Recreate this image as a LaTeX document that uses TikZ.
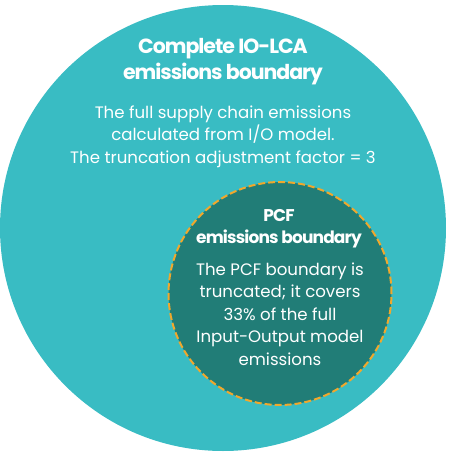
\documentclass[tikz,border=0pt]{standalone}
\usepackage{fontspec}
\setmainfont{Poppins}
\newfontfamily\titlefont[LetterSpace=-5]{Poppins}
\definecolor{outerfill}{RGB}{57,188,195}
\definecolor{innerfill}{RGB}{33,125,119}
\definecolor{dashcol}{RGB}{240,168,44}
\tikzset{
  bodytext/.style={text=white, align=center, inner sep=0, font=\fontsize{16.6}{22.5}\selectfont},
  titletext/.style={text=white, align=center, inner sep=0, font=\titlefont\bfseries\fontsize{20.5}{26}\selectfont},
  subtitletext/.style={text=white, align=center, inner sep=0, font=\titlefont\bfseries\fontsize{17}{22}\selectfont},
}
\begin{document}
\begin{tikzpicture}[x=1pt,y=-1pt]
\useasboundingbox (0,0) rectangle (456,456);
\node[circle, fill=outerfill, minimum size=446pt, inner sep=0] (big) at (223,228) {};
\node[circle, fill=innerfill, draw=dashcol, line width=2pt, dash pattern=on 7pt off 3pt, minimum size=223pt, inner sep=0] (small) at (280,293.5) {};
\node[titletext, anchor=base] (t1) at (223,53) {Complete IO-LCA};
\node[titletext, anchor=base] (t2) at (223,79) {emissions boundary};
\node[bodytext, anchor=base] (b1) at (223,118) {The full supply chain emissions};
\node[bodytext, anchor=base] (b2) at (223,140.5) {calculated from I/O model.};
\node[bodytext, anchor=base] (b3) at (223,163) {The truncation adjustment factor = 3};
\node[subtitletext, anchor=base] (s1) at (279,221) {PCF};
\node[subtitletext, anchor=base] (s2) at (279,243) {emissions boundary};
\node[bodytext, anchor=base] (i1) at (280,275) {The PCF boundary is};
\node[bodytext, anchor=base] (i2) at (280,297.5) {truncated; it covers};
\node[bodytext, anchor=base] (i3) at (280,320) {33\% of the full};
\node[bodytext, anchor=base] (i4) at (280,342.5) {Input-Output model};
\node[bodytext, anchor=base] (i5) at (280,365) {emissions};
\end{tikzpicture}
\end{document}
